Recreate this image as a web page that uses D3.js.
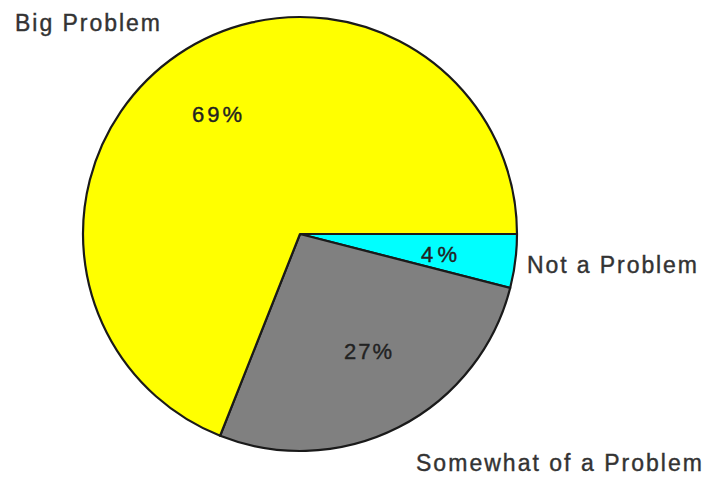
<!DOCTYPE html>
<html>
<head>
<meta charset="utf-8">
<script src="https://cdn.jsdelivr.net/npm/d3@7"></script>
<style>
  html, body { margin: 0; padding: 0; background: #fff; }
  svg { display: block; }
</style>
</head>
<body>
<svg id="chart" width="704" height="478"></svg>
<script>
const categories = ["Not a Problem", "Somewhat of a Problem", "Big Problem"];
const values = [4, 27, 69];
const percentLabels = ["4%", "27%", "69%"];
const colors = ["#00ffff", "#808080", "#ffff00"];

const svg = d3.select("#chart");
const cx = 300, cy = 234, r = 217;
const g = svg.append("g").attr("transform", `translate(${cx},${cy})`);

// start at 3 o'clock, going clockwise
const pie = d3.pie().sort(null).value(d => d)
  .startAngle(Math.PI / 2).endAngle(Math.PI / 2 + 2 * Math.PI);
const arcs = pie(values);
const arc = d3.arc().innerRadius(0).outerRadius(r);

g.selectAll("path.slice").data(arcs).enter().append("path")
  .attr("class", "slice")
  .attr("d", arc)
  .attr("fill", (d, i) => colors[i])
  .attr("stroke", "#1a1a1a")
  .attr("stroke-width", 2.2)
  .attr("stroke-linejoin", "round");

// percentage labels
const pctPos = [
  { x: 439, y: 262, w: 36 },
  { x: 368, y: 359, w: 48 },
  { x: 217, y: 122, w: 50 }
];
svg.selectAll("text.pct").data(arcs).enter().append("text")
  .attr("class", "pct")
  .attr("x", (d, i) => pctPos[i].x)
  .attr("y", (d, i) => pctPos[i].y)
  .attr("text-anchor", "middle")
  .attr("font-family", "Liberation Sans, Arial, sans-serif")
  .attr("font-size", 22)
  .attr("fill", "#222")
  .attr("stroke", "#222")
  .attr("stroke-width", 0.4)
  .attr("textLength", (d, i) => pctPos[i].w)
  .attr("lengthAdjust", "spacing")
  .text((d, i) => percentLabels[i]);

// category labels
const catPos = [
  { x: 527, y: 273, w: 170 },
  { x: 416, y: 471, w: 286 },
  { x: 15, y: 31, w: 145 }
];
svg.selectAll("text.cat").data(categories).enter().append("text")
  .attr("class", "cat")
  .attr("x", (d, i) => catPos[i].x)
  .attr("y", (d, i) => catPos[i].y)
  .attr("font-family", "Liberation Sans, Arial, sans-serif")
  .attr("font-size", 23)
  .attr("fill", "#333")
  .attr("stroke", "#333")
  .attr("stroke-width", 0.4)
  .attr("textLength", (d, i) => catPos[i].w)
  .attr("lengthAdjust", "spacing")
  .text(d => d);
</script>
</body>
</html>
